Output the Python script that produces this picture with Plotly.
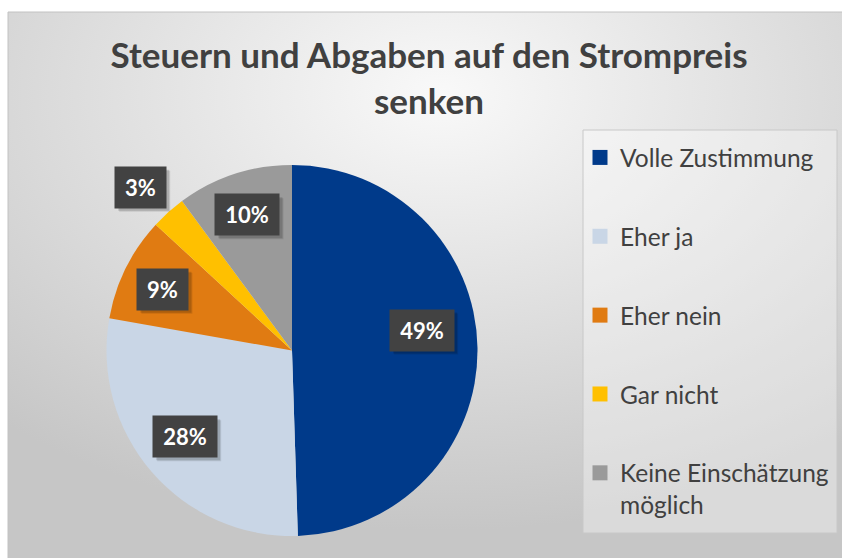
import base64
import math
import plotly.graph_objects as go

# ---------------- data ----------------
categories = ["Volle Zustimmung", "Eher ja", "Eher nein", "Gar nicht", "Keine Einschätzung möglich"]
legend_labels = ["Volle Zustimmung", "Eher ja", "Eher nein", "Gar nicht", "Keine Einschätzung<br>möglich"]
values = [49, 28, 9, 3, 10]
value_labels = ["49%", "28%", "9%", "3%", "10%"]
title_text = "Steuern und Abgaben auf den Strompreis<br>senken"

# ---------------- style ----------------
colors = ["#003A8A", "#C9D6E6", "#E07B12", "#FFC000", "#9A9A9A"]
label_radius = [0.71, 0.74, 0.77, 1.20, 0.77]   # radial position of label boxes (fraction of R)
label_nudge = [-8, 2, -1, -1, 0]                # small angular nudges (deg)
W, H = 842, 558
FONT = "Lato"
TXT = "#404040"

pie_dom_x = [106.5 / W, 477.5 / W]
pie_dom_y = [22 / H, 393 / H]
R_px = 185.5

# background gradient as svg image
svg = ('<svg xmlns="http://www.w3.org/2000/svg" width="834" height="546" viewBox="0 0 834 546" '
       'preserveAspectRatio="none"><defs><radialGradient id="g" cx="0.52" cy="0.15" r="0.8">'
       '<stop offset="0" stop-color="#f9f9f9"/><stop offset="1" stop-color="#c6c6c6"/>'
       '</radialGradient></defs><rect width="834" height="546" fill="url(#g)"/></svg>')
bg_src = "data:image/svg+xml;base64," + base64.b64encode(svg.encode()).decode()

fig = go.Figure()

fig.add_trace(go.Pie(
    labels=categories, values=values, sort=False, direction="clockwise", rotation=0,
    marker=dict(colors=colors, line=dict(width=0)),
    textinfo="none", hoverinfo="skip", showlegend=False,
    domain=dict(x=pie_dom_x, y=pie_dom_y),
))

# legend entries
for i, (lab, col) in enumerate(zip(legend_labels, colors)):
    fig.add_trace(go.Scatter(
        x=[None], y=[None], mode="markers", name=lab, legendgroup=f"g{i}",
        marker=dict(symbol="square", size=15, color=col), showlegend=True, hoverinfo="skip",
    ))

shapes = [
    dict(type="rect", xref="paper", yref="paper", x0=8 / W, x1=1.01, y0=-0.01, y1=1 - 12 / H,
         line=dict(color="#c2c2c2", width=1), fillcolor="rgba(0,0,0,0)", layer="below"),
    dict(type="rect", xref="paper", yref="paper", x0=583 / W, x1=837 / W, y0=1 - 533 / H, y1=1 - 130 / H,
         line=dict(color="#c8c8c8", width=1), fillcolor="rgba(255,255,255,0.35)", layer="below"),
]

# label boxes, positioned from the data angles
total = sum(values)
cx = sum(pie_dom_x) / 2
cy = sum(pie_dom_y) / 2
annotations = []
cum = 0.0
BH = 41
for v, txt, rf, nd in zip(values, value_labels, label_radius, label_nudge):
    mid = (cum + v / 2) / total * 360 + nd
    cum += v
    th = math.radians(mid)
    ax = cx + rf * R_px * math.sin(th) / W
    ay = cy + rf * R_px * math.cos(th) / H
    bw = 13 * len(txt) + 25
    # soft drop shadow
    for off, alpha in ((4, 0.10), (3, 0.14)):
        shapes.append(dict(type="rect", xref="paper", yref="paper", layer="above",
                           x0=ax + (-bw / 2 + off) / W, x1=ax + (bw / 2 + off) / W,
                           y0=ay + (-BH / 2 - off) / H, y1=ay + (BH / 2 - off) / H,
                           line=dict(width=0), fillcolor=f"rgba(0,0,0,{alpha})"))
    annotations.append(dict(text=txt, x=ax, y=ay, xref="paper", yref="paper",
                            xanchor="center", yanchor="middle", showarrow=False,
                            width=bw - 2, height=BH - 2, borderpad=1, bgcolor="#424242",
                            font=dict(family=FONT, size=22, color="white", weight="bold")))

fig.update_layout(
    width=W, height=H,
    margin=dict(l=0, r=0, t=0, b=0),
    paper_bgcolor="white", plot_bgcolor="rgba(0,0,0,0)",
    images=[dict(source=bg_src, xref="paper", yref="paper", x=8 / W, y=1 - 12 / H,
                 sizex=834 / W, sizey=546 / H, sizing="stretch", xanchor="left", yanchor="top",
                 layer="below")],
    title=dict(text=title_text, x=429 / W, xanchor="center", xref="paper",
               y=1 - 68 / H, yanchor="top", yref="container",
               font=dict(family=FONT, size=35, color=TXT, weight="bold")),
    xaxis=dict(visible=False), yaxis=dict(visible=False),
    legend=dict(x=580 / W, y=1 - 135 / H, xanchor="left", yanchor="top",
                bgcolor="rgba(0,0,0,0)", font=dict(family=FONT, size=24.5, color=TXT),
                tracegroupgap=44, itemwidth=30, valign="top", itemclick=False, itemdoubleclick=False),
    shapes=shapes,
    annotations=annotations,
    hovermode=False,
)

fig.write_html("out.html", config={"displayModeBar": False},
               post_script="document.body.style.margin='0';document.body.style.overflow='hidden';")
